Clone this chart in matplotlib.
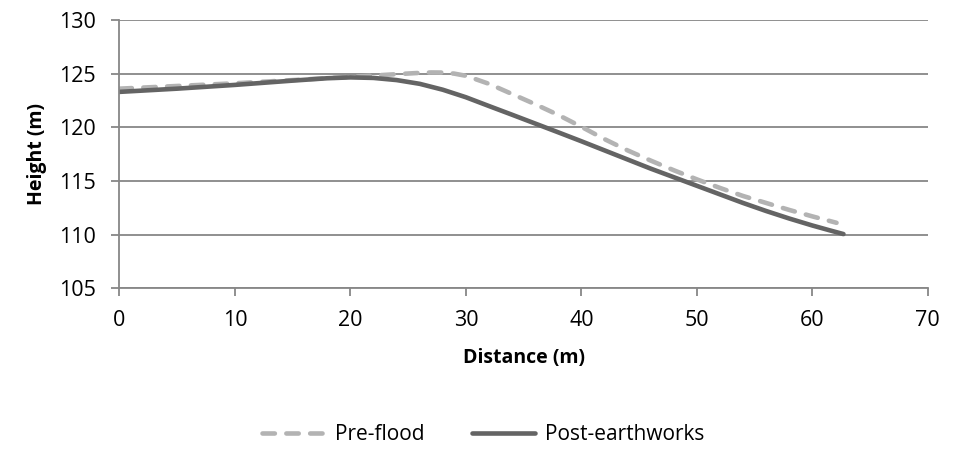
import numpy as np
import matplotlib.pyplot as plt

# Perfis
dist_pre = [0, 5, 10, 15, 20, 22, 24, 26, 27, 28, 29, 30, 32, 34, 36, 38, 40, 42, 44, 46, 48, 50, 52, 54, 56, 58, 60, 62.1]
alt_pre = [123.6, 123.85, 124.1, 124.4, 124.7, 124.82, 124.95, 125.07, 125.11, 125.1, 125.0, 124.8, 124.05, 123.1,
           122.15, 121.15, 120.05, 118.9, 117.85, 116.9, 116.0, 115.15, 114.35, 113.6, 112.95, 112.3, 111.7, 111.1]

dist_pos = [0, 5, 10, 15, 18, 20, 22, 24, 26, 28, 30, 32, 34, 36, 38, 40, 42, 44, 46, 48, 50, 52, 54, 56, 58, 60, 61.5, 62.7]
alt_pos = [123.3, 123.6, 123.95, 124.35, 124.57, 124.65, 124.6, 124.4, 124.05, 123.5, 122.8, 121.98, 121.17, 120.35,
           119.53, 118.7, 117.85, 117.0, 116.15, 115.35, 114.55, 113.75, 112.95, 112.2, 111.5, 110.85, 110.4, 110.05]

xticks = [0, 10, 20, 30, 40, 50, 60, 70]
yticks = [105, 110, 115, 120, 125, 130]

plt.rcParams['font.family'] = ['Open Sans', 'DejaVu Sans']
cinza = '#878787'

fig = plt.figure(figsize=(9.66, 4.49), dpi=100)
ax = fig.add_axes([0.1237, 0.358, 0.8367, 0.5975])

ax.plot(dist_pre, alt_pre, color='#b3b3b3', lw=3.3, dashes=(2.7, 2.5), dash_capstyle='round',
        solid_capstyle='round', label='Pre-flood')
ax.plot(dist_pos, alt_pos, color='#646464', lw=3.3, solid_capstyle='round', solid_joinstyle='round',
        label='Post-earthworks')

ax.set_xlim(0, 70)
ax.set_ylim(105, 130)
ax.set_xticks(xticks)
ax.set_yticks(yticks)
ax.grid(axis='y', color=cinza, lw=1.3)
ax.set_axisbelow(True)
for s in ['top', 'right']:
    ax.spines[s].set_visible(False)
for s in ['left', 'bottom']:
    ax.spines[s].set_color(cinza)
    ax.spines[s].set_linewidth(1.3)
ax.tick_params(colors=cinza, labelcolor='black', labelsize=15.5, length=6, width=1.3)
ax.tick_params(axis='y', pad=11)
ax.tick_params(axis='x', pad=10)

ax.set_xlabel('Distance (m)', fontsize=14, fontweight='bold', labelpad=12)
ax.set_ylabel('Height (m)', fontsize=14, fontweight='bold', labelpad=9)

fig.legend(loc='center', bbox_to_anchor=(0.5, 1 - 435 / 449), ncol=2, frameon=False,
           fontsize=15, handlelength=3.0, columnspacing=2.3, handletextpad=0.5)

fig.savefig('out.png', dpi=100)
